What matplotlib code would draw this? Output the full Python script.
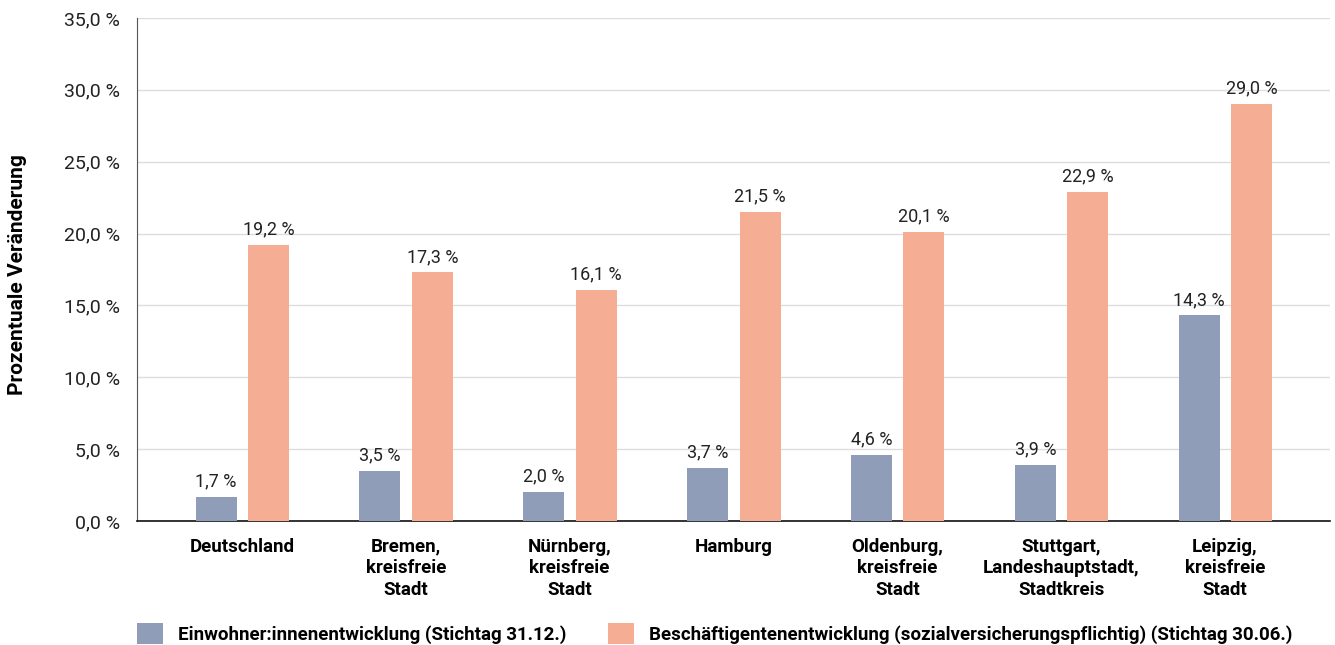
import matplotlib.pyplot as plt
import numpy as np

# data
categories = ["Deutschland", "Bremen,\nkreisfreie\nStadt", "Nürnberg,\nkreisfreie\nStadt",
              "Hamburg", "Oldenburg,\nkreisfreie\nStadt",
              "Stuttgart,\nLandeshauptstadt,\nStadtkreis", "Leipzig,\nkreisfreie\nStadt"]
einwohner = [1.7, 3.5, 2.0, 3.7, 4.6, 3.9, 14.3]
beschaeftigte = [19.2, 17.3, 16.1, 21.5, 20.1, 22.9, 29.0]
series_names = ["Einwohner:innenentwicklung (Stichtag 31.12.)",
                "Beschäftigentenentwicklung (sozialversicherungspflichtig) (Stichtag 30.06.)"]
yticks = [0, 5, 10, 15, 20, 25, 30, 35]

blue = "#8f9db9"
orange = "#f5ae94"

plt.rcParams['font.family'] = ['Roboto', 'DejaVu Sans']

fig = plt.figure(figsize=(13.35, 6.45), dpi=100)
ax = fig.add_axes([137 / 1335, 1 - 521 / 645, (1330 - 137) / 1335, (521 - 18) / 645])

x = np.arange(len(categories))
w = 0.25
b1 = ax.bar(x - 0.158, einwohner, w, color=blue, label=series_names[0], zorder=3)
b2 = ax.bar(x + 0.162, beschaeftigte, w, color=orange, label=series_names[1], zorder=3)

fmt = lambda v: f"{v:.1f}".replace(".", ",") + " %"
for bars, vals in ((b1, einwohner), (b2, beschaeftigte)):
    for r, v in zip(bars, vals):
        ax.text(r.get_x() + r.get_width() / 2, v + 0.45, fmt(v), ha="center", va="bottom",
                fontsize=13, color="#222222")

ax.set_ylim(0, 35)
ax.set_xlim(-0.641, 6.641)
ax.set_yticks(yticks)
ax.set_yticklabels([fmt(t) for t in yticks], fontsize=14, color="#222222")
ax.set_xticks(x)
ax.set_xticklabels(categories, fontsize=13.5, fontweight="bold", linespacing=1.27)
ax.tick_params(axis="both", length=0)
ax.tick_params(axis="x", pad=12)
ax.tick_params(axis="y", pad=12)
ax.grid(axis="y", color="#dddddd", linewidth=1, zorder=0)
for s in ("top", "right"):
    ax.spines[s].set_visible(False)
ax.spines["left"].set_color("#555555")
ax.spines["bottom"].set_color("#111111")
ax.spines["bottom"].set_linewidth(1.2)

fig.text(18 / 1335, 1 - 275 / 645, "Prozentuale Veränderung", rotation=90, ha="center", va="center",
         fontsize=15, fontweight="bold")

leg = fig.legend(handles=[b1, b2], loc="lower left", bbox_to_anchor=(137 / 1335, 1 / 645), ncol=2,
                 frameon=False, prop={"weight": "bold", "size": 13.5}, handlelength=1.39,
                 handleheight=1.33, handletextpad=0.8, columnspacing=2.2,
                 borderpad=0, borderaxespad=0)

fig.savefig("out.png", dpi=100)
